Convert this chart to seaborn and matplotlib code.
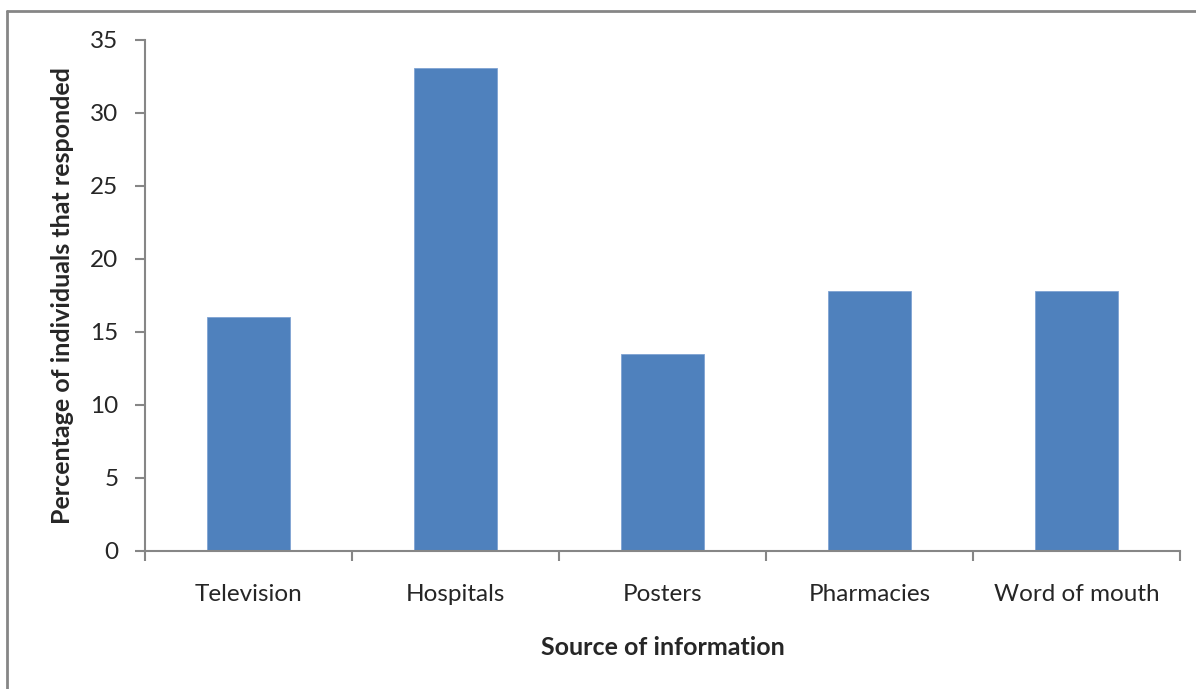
import matplotlib
matplotlib.use("Agg")
import matplotlib.pyplot as plt
from matplotlib.lines import Line2D
import seaborn as sns
import pandas as pd

sources = ["Television", "Hospitals", "Posters", "Pharmacies", "Word of mouth"]
percentages = [16.0, 33.1, 13.5, 17.8, 17.8]
y_ticks = [0, 5, 10, 15, 20, 25, 30, 35]

sns.set_style("white")
plt.rcParams["font.family"] = ["Lato", "DejaVu Sans"]

df = pd.DataFrame({"source": sources, "pct": percentages})

fig = plt.figure(figsize=(11.96, 6.89), dpi=100)
ax = fig.add_axes([0.1212, 0.2003, 0.8654, 0.7417])

sns.barplot(data=df, x="source", y="pct", color="#4F81BD", saturation=1,
            width=0.4, ax=ax, edgecolor="#7FA3D3", linewidth=0.6)

axis_color = "#868686"
tick_size = 17.5
label_size = 18
ax.set_ylim(0, 35)
ax.set_xlim(-0.5, len(sources) - 0.5)
ax.set_yticks(y_ticks)
ax.set_yticklabels([str(t) for t in y_ticks], fontsize=tick_size)

# category boundaries carry the tick marks, labels sit at category centres
ax.set_xticks([i - 0.5 for i in range(len(sources) + 1)])
ax.set_xticklabels([])
ax.set_xticks(range(len(sources)), minor=True)
ax.set_xticklabels(sources, minor=True, fontsize=tick_size)
ax.tick_params(axis="x", which="major", direction="out", length=7, width=1.5,
               color=axis_color, bottom=True)
ax.tick_params(axis="x", which="minor", length=0, pad=24)
ax.tick_params(axis="y", direction="out", length=7, width=1.5,
               color=axis_color, pad=12, left=True)

for side in ("top", "right"):
    ax.spines[side].set_visible(False)
for side in ("left", "bottom"):
    ax.spines[side].set_color(axis_color)
    ax.spines[side].set_linewidth(1.5)

ax.set_xlabel("Source of information", fontsize=label_size, fontweight="bold",
              labelpad=22)
ax.set_ylabel("Percentage of individuals that responded", fontsize=label_size,
              fontweight="bold", labelpad=12)

# chart-area frame
W, H = fig.get_size_inches() * fig.dpi
x0 = 6.5 / W
y_top = 1 - 10.5 / H
fig.add_artist(Line2D([x0, x0], [0, y_top], transform=fig.transFigure,
                      color=axis_color, linewidth=2))
fig.add_artist(Line2D([x0, 1], [y_top, y_top], transform=fig.transFigure,
                      color=axis_color, linewidth=2))

fig.savefig("out.png", dpi=100)
